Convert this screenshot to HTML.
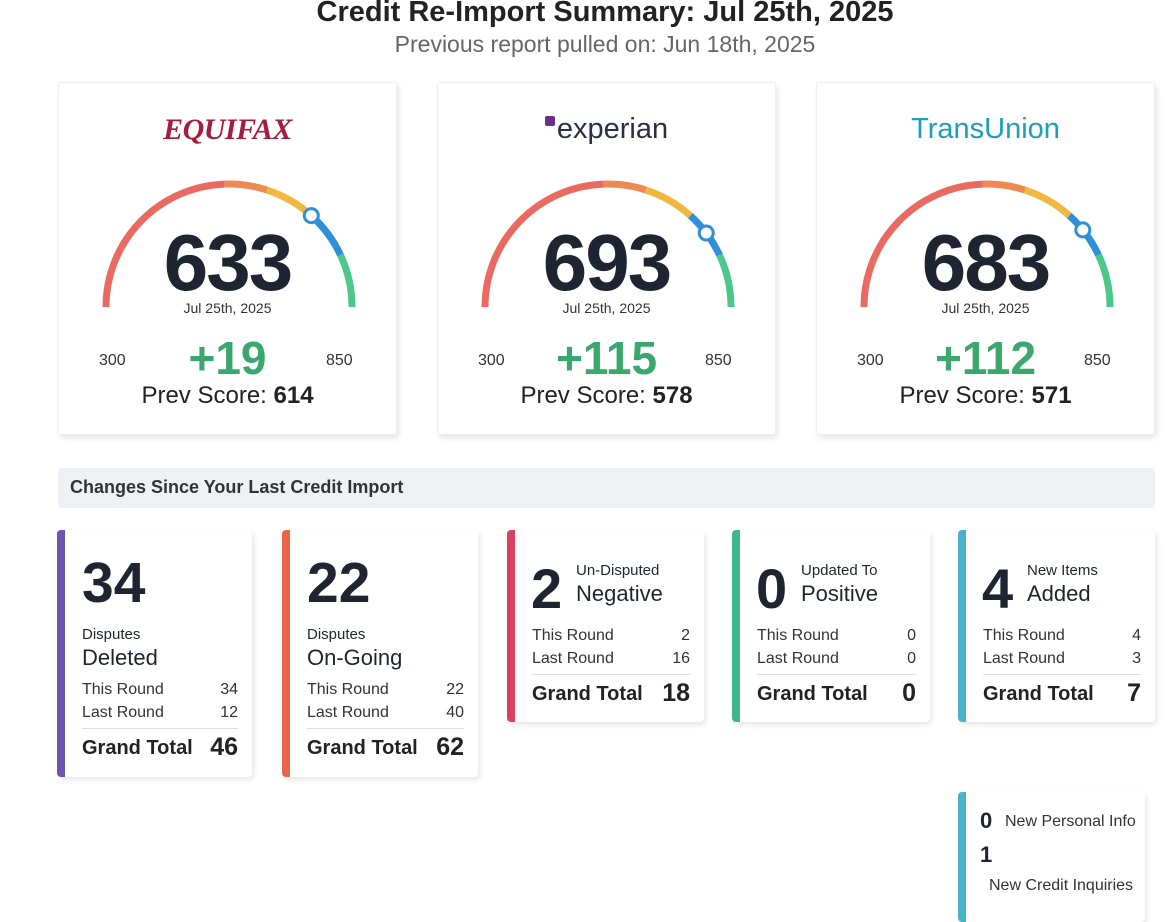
<!DOCTYPE html>
<html><head><meta charset="utf-8">
<style>
*{box-sizing:border-box;margin:0;padding:0}
body{width:1170px;height:908px;background:#fff;font-family:"Liberation Sans",sans-serif;color:#1f2530;position:relative;overflow:hidden}
.abs{position:absolute}
.title{left:0;width:1210px;top:-4px;text-align:center;font-size:29px;font-weight:bold;color:#222}
.sub{left:0;width:1210px;top:31px;text-align:center;font-size:23px;color:#666}
.card{position:absolute;background:#fff;border:1px solid #eceef1;box-shadow:2px 3px 6px rgba(0,0,0,0.10);border-radius:3px}
.sc{position:absolute;background:#fff;box-shadow:2px 3px 6px rgba(0,0,0,0.10);border-radius:4px;overflow:hidden}
.bar{position:absolute;left:0;top:0;bottom:0;width:8px}
.row{position:absolute;left:25px;right:14px;display:flex;justify-content:space-between;font-size:16px;color:#333}
.gt{position:absolute;left:25px;right:14px;display:flex;justify-content:space-between;font-size:20px;font-weight:bold;color:#222;border-top:1px solid #ddd;padding-top:4px}
.gt b{font-size:25px}
</style></head><body>
<div class="abs title">Credit Re-Import Summary: Jul 25th, 2025</div>
<div class="abs sub">Previous report pulled on: Jun 18th, 2025</div>

<div id="bureaus"></div>

<div class="abs" style="left:58px;top:468px;width:1097px;height:40px;background:#eef2f5;border-radius:4px;font-size:18px;font-weight:bold;color:#333;padding:9px 12px">Changes Since Your Last Credit Import</div>

<div class="sc" style="left:57px;top:530px;width:195px;height:247px">
<div class="bar" style="background:#6a55b0"></div>
<div class="abs" style="left:25px;top:20px;font-size:57px;font-weight:bold">34</div>
<div class="abs" style="left:25px;top:96px;font-size:15px">Disputes</div>
<div class="abs" style="left:25px;top:115px;font-size:22px">Deleted</div>
<div class="row" style="top:151px"><span>This Round</span><span>34</span></div>
<div class="row" style="top:174px"><span>Last Round</span><span>12</span></div>
<div class="gt" style="top:198px"><span style="padding-top:4px">Grand Total</span><b>46</b></div>
</div>
<div class="sc" style="left:282px;top:530px;width:196px;height:247px">
<div class="bar" style="background:#e8674a"></div>
<div class="abs" style="left:25px;top:20px;font-size:57px;font-weight:bold">22</div>
<div class="abs" style="left:25px;top:96px;font-size:15px">Disputes</div>
<div class="abs" style="left:25px;top:115px;font-size:22px">On-Going</div>
<div class="row" style="top:151px"><span>This Round</span><span>22</span></div>
<div class="row" style="top:174px"><span>Last Round</span><span>40</span></div>
<div class="gt" style="top:198px"><span style="padding-top:4px">Grand Total</span><b>62</b></div>
</div>
<div class="sc" style="left:507px;top:530px;width:197px;height:192px">
<div class="bar" style="background:#d9415e"></div>
<div class="abs" style="left:24px;top:26px;font-size:56px;font-weight:bold">2</div>
<div class="abs" style="left:69px;top:32px;font-size:15px">Un-Disputed</div>
<div class="abs" style="left:69px;top:51px;font-size:22px">Negative</div>
<div class="row" style="top:97px"><span>This Round</span><span>2</span></div>
<div class="row" style="top:120px"><span>Last Round</span><span>16</span></div>
<div class="gt" style="top:144px"><span style="padding-top:4px">Grand Total</span><b>18</b></div>
</div>
<div class="sc" style="left:732px;top:530px;width:198px;height:192px">
<div class="bar" style="background:#3db88a"></div>
<div class="abs" style="left:24px;top:26px;font-size:56px;font-weight:bold">0</div>
<div class="abs" style="left:69px;top:32px;font-size:15px">Updated To</div>
<div class="abs" style="left:69px;top:51px;font-size:22px">Positive</div>
<div class="row" style="top:97px"><span>This Round</span><span>0</span></div>
<div class="row" style="top:120px"><span>Last Round</span><span>0</span></div>
<div class="gt" style="top:144px"><span style="padding-top:4px">Grand Total</span><b>0</b></div>
</div>
<div class="sc" style="left:958px;top:530px;width:197px;height:192px">
<div class="bar" style="background:#4ab3c8"></div>
<div class="abs" style="left:24px;top:26px;font-size:56px;font-weight:bold">4</div>
<div class="abs" style="left:69px;top:32px;font-size:15px">New Items</div>
<div class="abs" style="left:69px;top:51px;font-size:22px">Added</div>
<div class="row" style="top:97px"><span>This Round</span><span>4</span></div>
<div class="row" style="top:120px"><span>Last Round</span><span>3</span></div>
<div class="gt" style="top:144px"><span style="padding-top:4px">Grand Total</span><b>7</b></div>
</div>
<div class="sc" style="left:958px;top:792px;width:187px;height:130px">
<div class="bar" style="background:#4ab3c8"></div>
<div class="abs" style="left:22px;top:16px;font-size:22px;font-weight:bold">0</div>
<div class="abs" style="left:47px;top:21px;font-size:16px;color:#333">New Personal Info</div>
<div class="abs" style="left:22px;top:50px;font-size:22px;font-weight:bold">1</div>
<div class="abs" style="left:31px;top:85px;font-size:16px;color:#333">New Credit Inquiries</div>
</div>

<script>
const bureaus=["Equifax","Experian","TransUnion"];
const scores=[633,693,683];
const prevScores=[614,578,571];
const anchorScores=[300,633,693,850];
const anchorAngles=[180,48,37,0];
const cardLeft=[58,437,816];
function angleFor(s){for(let i=0;i<anchorScores.length-1;i++){if(s<=anchorScores[i+1]){const t=(s-anchorScores[i])/(anchorScores[i+1]-anchorScores[i]);return anchorAngles[i]+t*(anchorAngles[i+1]-anchorAngles[i]);}}return 0;}
function pt(cx,cy,r,a){const rad=a*Math.PI/180;return [cx+r*Math.cos(rad),cy-r*Math.sin(rad)];}
function arc(cx,cy,r,a1,a2){const p1=pt(cx,cy,r,a1),p2=pt(cx,cy,r,a2);return `M${p1[0]},${p1[1]} A${r},${r} 0 0 1 ${p2[0]},${p2[1]}`;}
const segs=[[180,92,"#ea6a62"],[92,72,"#ec8a52"],[72,48,"#f0b841"],[48,25,"#2f8fd8"],[25,0,"#4cc98a"]];
const logos=[
 '<div style="font-family:Liberation Serif,serif;font-style:italic;font-weight:bold;font-size:30px;color:#a51c3f;letter-spacing:-0.5px">EQUIFAX</div>',
 '<div style="font-size:29px;color:#2a2f45"><span style="display:inline-block;width:10px;height:10px;background:#6b2f8a;border-radius:2px;vertical-align:12px;margin-right:2px"></span>experian</div>',
 '<div style="font-size:29px;color:#1c9fb8">TransUnion</div>'];
const host=document.getElementById('bureaus');
bureaus.forEach((b,i)=>{
 const c=document.createElement('div');
 c.className='card';
 
 
 c.style.cssText=`left:${cardLeft[i]}px;top:82px;width:339px;height:353px`;
 const cx=170,cy=224,r=123;
 let paths=segs.map(s=>`<path d="${arc(cx,cy,r,s[0],s[1])}" stroke="${s[2]}" stroke-width="7" fill="none"/>`).join('');
 const m=pt(cx,cy,r,angleFor(scores[i]));
 paths+=`<circle cx="${m[0]}" cy="${m[1]}" r="7" fill="#fff" stroke="#2f8fd8" stroke-width="3"/>`;
 const diff=scores[i]-prevScores[i];
 c.innerHTML=`<div style="position:absolute;left:0;right:0;top:30px;display:flex;justify-content:center">${logos[i]}</div>
 <svg width="339" height="353" style="position:absolute;left:0;top:0">${paths}</svg>
 <div style="position:absolute;left:0;right:0;top:134px;text-align:center;font-size:80px;font-weight:bold;color:#1f2530;letter-spacing:-2px">${scores[i]}</div>
 <div style="position:absolute;left:0;right:0;top:217px;text-align:center;font-size:14px;color:#333">Jul 25th, 2025</div>
 <div style="position:absolute;left:0;right:0;top:248px;text-align:center;font-size:46px;font-weight:bold;color:#3aa86c">+${diff}</div>
 <div style="position:absolute;left:40px;top:269px;font-size:16px;color:#333">300</div>
 <div style="position:absolute;left:267px;top:269px;font-size:16px;color:#333">850</div>
 <div style="position:absolute;left:0;right:0;top:299px;text-align:center;font-size:24px;color:#222">Prev Score: <b>${prevScores[i]}</b></div>`;
 host.appendChild(c);
});
</script>
</body></html>
